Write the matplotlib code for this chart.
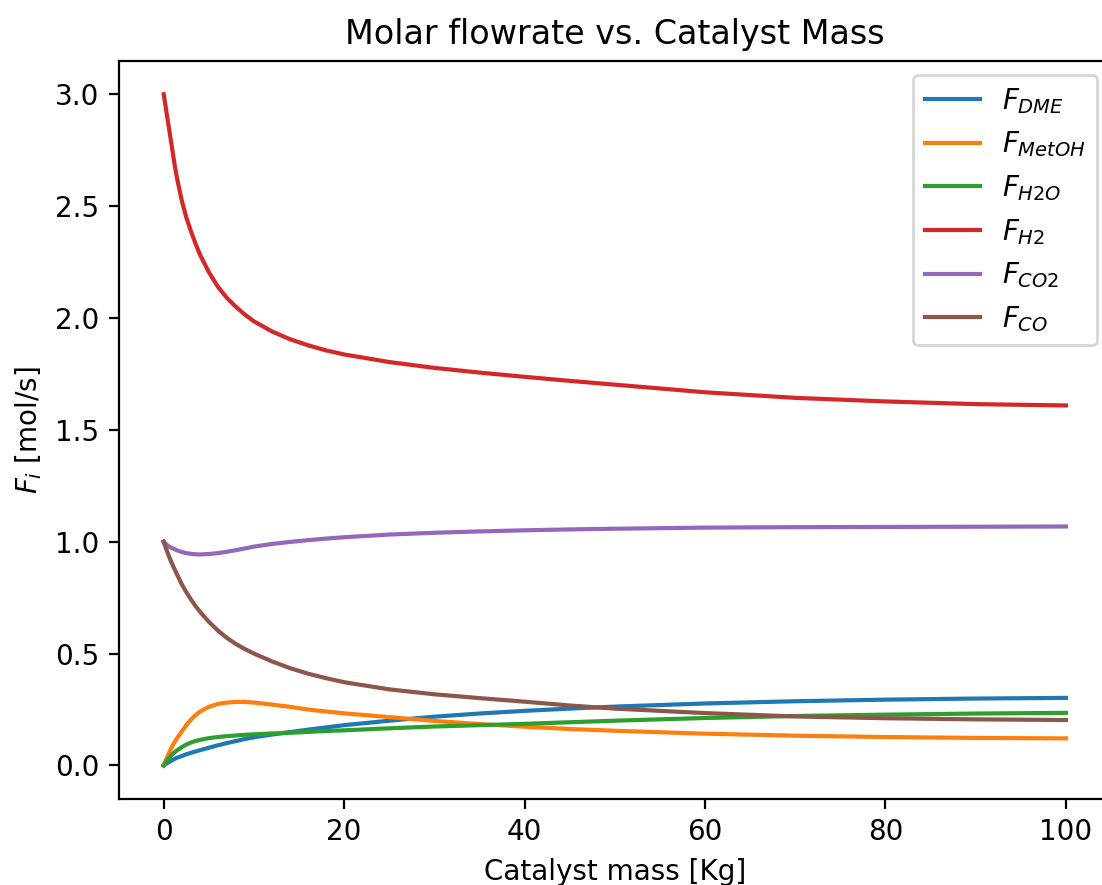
import matplotlib
matplotlib.use("Agg")
import matplotlib.pyplot as plt

mass = [0, 0.25, 0.5, 0.75, 1, 1.25, 1.5, 2, 2.5, 3, 3.5, 4, 5, 6, 7, 8, 9, 10, 12, 14, 16, 18, 20,
        25, 30, 35, 40, 45, 50, 60, 70, 80, 90, 100]

F_DME = [0, 0.007, 0.013, 0.019, 0.025, 0.03, 0.035, 0.042, 0.05, 0.056, 0.062, 0.068, 0.079, 0.09,
         0.1, 0.109, 0.118, 0.126, 0.138, 0.149, 0.16, 0.17, 0.18, 0.2, 0.218, 0.232, 0.244, 0.254,
         0.263, 0.277, 0.287, 0.294, 0.299, 0.302]
F_MetOH = [0, 0.025, 0.048, 0.07, 0.09, 0.107, 0.123, 0.152, 0.18, 0.204, 0.224, 0.24, 0.262, 0.275,
           0.281, 0.284, 0.284, 0.281, 0.272, 0.262, 0.25, 0.241, 0.233, 0.216, 0.199, 0.185, 0.173,
           0.163, 0.155, 0.142, 0.133, 0.127, 0.123, 0.121]
F_H2O = [0, 0.015, 0.029, 0.041, 0.052, 0.06, 0.068, 0.082, 0.093, 0.102, 0.109, 0.114, 0.122, 0.127,
         0.131, 0.134, 0.137, 0.139, 0.143, 0.146, 0.15, 0.154, 0.157, 0.166, 0.174, 0.18, 0.186,
         0.193, 0.2, 0.212, 0.221, 0.227, 0.232, 0.235]
F_H2 = [3.0, 2.935, 2.87, 2.805, 2.74, 2.675, 2.62, 2.525, 2.45, 2.39, 2.335, 2.285, 2.205, 2.14,
        2.09, 2.05, 2.015, 1.985, 1.94, 1.905, 1.878, 1.855, 1.837, 1.803, 1.777, 1.756, 1.737,
        1.719, 1.702, 1.668, 1.643, 1.627, 1.615, 1.609]
F_CO2 = [1.0, 0.99, 0.981, 0.975, 0.97, 0.966, 0.961, 0.954, 0.949, 0.946, 0.944, 0.943, 0.945, 0.949,
         0.955, 0.962, 0.97, 0.978, 0.99, 0.999, 1.007, 1.014, 1.02, 1.032, 1.04, 1.046, 1.051,
         1.055, 1.058, 1.063, 1.065, 1.066, 1.067, 1.068]
F_CO = [1.0, 0.97, 0.943, 0.918, 0.895, 0.873, 0.852, 0.81, 0.775, 0.743, 0.714, 0.688, 0.642, 0.603,
        0.57, 0.543, 0.52, 0.5, 0.465, 0.435, 0.41, 0.39, 0.372, 0.34, 0.318, 0.301, 0.285,
        0.268, 0.254, 0.234, 0.219, 0.211, 0.206, 0.203]

labels = [r"$F_{DME}$", r"$F_{MetOH}$", r"$F_{H2O}$", r"$F_{H2}$", r"$F_{CO2}$", r"$F_{CO}$"]
series = [F_DME, F_MetOH, F_H2O, F_H2, F_CO2, F_CO]

dpi = 200
W, H = 1102, 885
fig = plt.figure(figsize=(W / dpi, H / dpi), dpi=dpi)
left, right, top, bottom = 118.6, 1111.0, 60.7, 799.0
ax = fig.add_axes([left / W, 1 - bottom / H, (right - left) / W, (bottom - top) / H])
for s, lab in zip(series, labels):
    ax.plot(mass, s, label=lab)
ax.set_title("Molar flowrate vs. Catalyst Mass")
ax.set_xlabel("Catalyst mass [Kg]")
ax.set_ylabel(r"$F_i$ [mol/s]")
ax.legend(loc="upper right")
fig.savefig("out.png", dpi=dpi)
